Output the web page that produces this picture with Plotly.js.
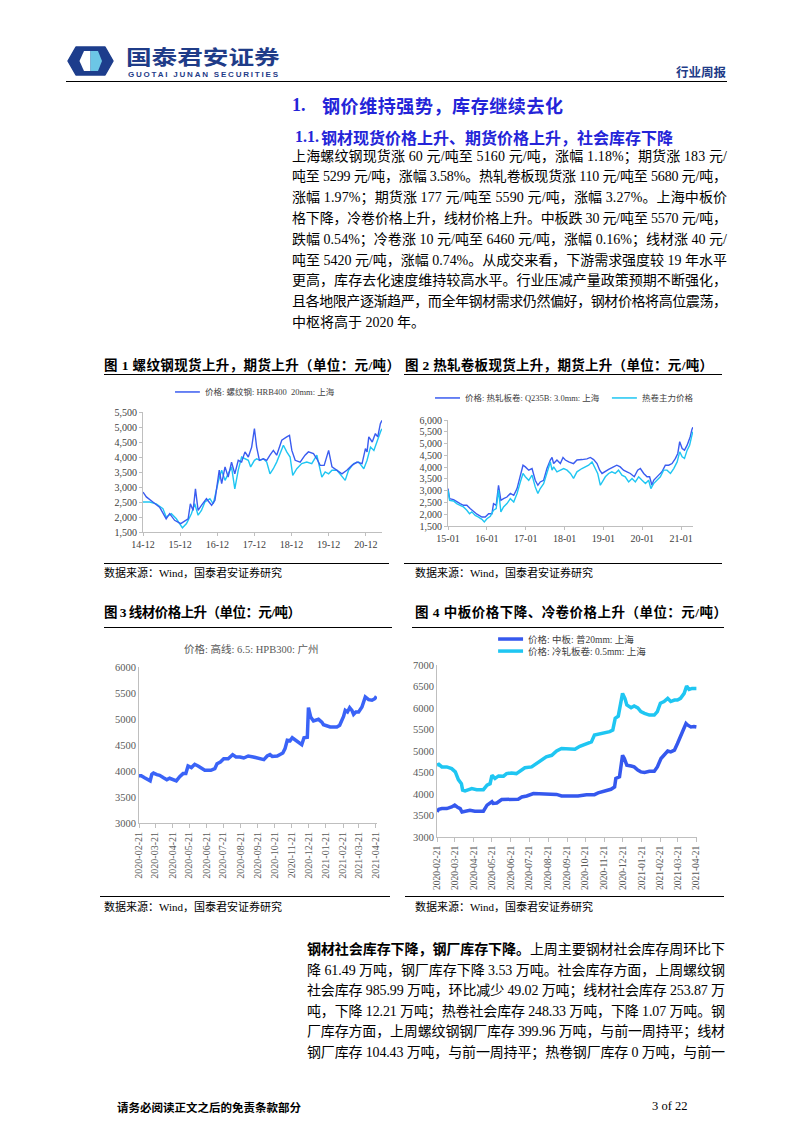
<!DOCTYPE html>
<html><head><meta charset="utf-8">
<script src="https://cdn.plot.ly/plotly-3.0.1.min.js"></script>
<style>
html,body{margin:0;padding:0;background:#fff}
body{width:793px;height:1122px;position:relative;overflow:hidden;font-family:"Liberation Serif","Noto Sans CJK SC",serif;color:#000}
.a{position:absolute;white-space:nowrap;display:inline-block}
.ln{position:absolute;font-size:14px;line-height:20px;white-space:nowrap;display:inline-block}
.cap{position:absolute;font-size:13.5px;font-weight:bold;white-space:nowrap;display:inline-block;line-height:16px}
.src{position:absolute;font-size:11px;white-space:nowrap;line-height:14px}
.rule{position:absolute;height:1.3px;background:#000}
.plot{position:absolute}
</style></head><body>

<!-- header -->
<svg class="a" style="left:67px;top:46px" width="47" height="30" viewBox="0 0 47 30">
  <path d="M9 1 H38 L46 15 L38 29 H9 L1 15 Z" fill="#1d3d8c" stroke="#1d3d8c" stroke-width="1.5" stroke-linejoin="round"/>
  <path d="M17 5 H23.5 V25 H17 L12.5 15 Z" fill="#ffffff"/>
  <path d="M23.5 5 H31 L35 15 L31 25 H23.5 Z" fill="#6cc6e6"/>
</svg>
<div class="a" style="left:126px;top:47px;font-size:20px;font-weight:bold;color:#1f3c88;font-family:'Noto Sans CJK SC';line-height:20px;height:20px;transform:scaleX(1.28);transform-origin:0 0">国泰君安证券</div>
<div class="a fit" data-w="150" style="left:128px;top:70.5px;font-size:8px;font-weight:bold;color:#1f3c88;font-family:'Liberation Sans';line-height:7px;height:7px">GUOTAI JUNAN SECURITIES</div>
<div class="a" style="left:676px;top:65px;font-size:12.5px;font-weight:bold;color:#1f3c88;font-family:'Noto Sans CJK SC';line-height:14px">行业周报</div>
<div class="rule" style="left:66px;top:81px;width:661px"></div>

<!-- headings -->
<div class="a" style="left:292px;top:94px;font-size:18px;font-weight:bold;color:#2424d8;line-height:22px">1.</div>
<div class="a fit" data-w="241" style="left:322px;top:94px;font-size:18px;font-weight:bold;color:#2424d8;font-family:'Noto Sans CJK SC';line-height:22px">钢价维持强势，库存继续去化</div>
<div class="a" style="left:295px;top:127px;font-size:16px;font-weight:bold;color:#2424d8;line-height:20px">1.1.</div>
<div class="a fit" data-w="352" style="left:321px;top:127px;font-size:16px;font-weight:bold;color:#2424d8;font-family:'Noto Sans CJK SC';line-height:20px">钢材现货价格上升、期货价格上升，社会库存下降</div>

<div id="para1"></div>

<!-- captions -->
<div class="cap fit" data-w="296" style="left:104px;top:358px">图 1 螺纹钢现货上升，期货上升（单位：元/吨）</div>
<div class="cap fit" data-w="308" style="left:405px;top:358px">图 2 热轧卷板现货上升，期货上升（单位：元/吨）</div>
<div class="rule" style="left:104px;top:374px;width:285px"></div>
<div class="rule" style="left:404px;top:374px;width:318px"></div>

<div class="rule" style="left:104px;top:563px;width:285px;height:1px"></div>
<div class="rule" style="left:404px;top:563px;width:318px;height:1px"></div>
<div class="src" style="left:104px;top:566px">数据来源：Wind，国泰君安证券研究</div>
<div class="src" style="left:415px;top:566px">数据来源：Wind，国泰君安证券研究</div>

<div class="cap fit" data-w="197" style="left:104px;top:605px">图 3 线材价格上升（单位：元/吨）</div>
<div class="cap fit" data-w="312" style="left:415px;top:605px">图 4 中板价格下降、冷卷价格上升（单位：元/吨）</div>
<div class="rule" style="left:104px;top:627px;width:288px"></div>
<div class="rule" style="left:412px;top:627px;width:312px"></div>

<div class="rule" style="left:100px;top:896px;width:290px;height:1px"></div>
<div class="rule" style="left:405px;top:896px;width:319px;height:1px"></div>
<div class="src" style="left:104px;top:900px">数据来源：Wind，国泰君安证券研究</div>
<div class="src" style="left:415px;top:900px">数据来源：Wind，国泰君安证券研究</div>

<div id="para2"></div>

<div class="a" style="left:117px;top:1100px;font-size:11.5px;font-weight:bold;font-family:'Noto Sans CJK SC';line-height:14px">请务必阅读正文之后的免责条款部分</div>
<div class="a" style="left:652px;top:1099px;font-size:12.5px;line-height:15px">3 of 22</div>

<div id="c1" class="plot" style="left:100px;top:378px;width:300px;height:180px"></div>
<div id="c2" class="plot" style="left:405px;top:378px;width:300px;height:180px"></div>
<div id="c3" class="plot" style="left:100px;top:630px;width:300px;height:260px"></div>
<div id="c4" class="plot" style="left:405px;top:630px;width:300px;height:266px"></div>

<script>
// ---------------- text ----------------
const para1Lines = [
 "上海螺纹钢现货涨 60 元/吨至 5160 元/吨，涨幅 1.18%；期货涨 183 元/",
 "吨至 5299 元/吨，涨幅 3.58%。热轧卷板现货涨 110 元/吨至 5680 元/吨，",
 "涨幅 1.97%；期货涨 177 元/吨至 5590 元/吨，涨幅 3.27%。上海中板价",
 "格下降，冷卷价格上升，线材价格上升。中板跌 30 元/吨至 5570 元/吨，",
 "跌幅 0.54%；冷卷涨 10 元/吨至 6460 元/吨，涨幅 0.16%；线材涨 40 元/",
 "吨至 5420 元/吨，涨幅 0.74%。从成交来看，下游需求强度较 19 年水平",
 "更高，库存去化速度维持较高水平。行业压减产量政策预期不断强化，",
 "且各地限产逐渐趋严，而全年钢材需求仍然偏好，钢材价格将高位震荡，",
 "中枢将高于 2020 年。"
];
const para2Bold = "钢材社会库存下降，钢厂库存下降。";
const para2Lines = [
 "上周主要钢材社会库存周环比下",
 "降 61.49 万吨，钢厂库存下降 3.53 万吨。社会库存方面，上周螺纹钢",
 "社会库存 985.99 万吨，环比减少 49.02 万吨；线材社会库存 253.87 万",
 "吨，下降 12.21 万吨；热卷社会库存 248.33 万吨，下降 1.07 万吨。钢",
 "厂库存方面，上周螺纹钢钢厂库存 399.96 万吨，与前一周持平；线材",
 "钢厂库存 104.43 万吨，与前一周持平；热卷钢厂库存 0 万吨，与前一"
];
(function(){
  const p1 = document.getElementById('para1');
  para1Lines.forEach((t,i)=>{
    const d=document.createElement('div');
    d.className='ln'+(i<para1Lines.length-1?' fit':'');
    d.dataset.w='435';
    d.style.left='292px'; d.style.top=(146.5+i*20.8)+'px';
    d.textContent=t; p1.appendChild(d);
  });
  const p2 = document.getElementById('para2');
  para2Lines.forEach((t,i)=>{
    const d=document.createElement('div');
    d.className='ln fit';
    d.dataset.w='418';
    d.style.left='307px'; d.style.top=(940+i*20.6)+'px';
    if(i===0){
      const b=document.createElement('b'); b.textContent=para2Bold; d.appendChild(b);
      d.appendChild(document.createTextNode(t));
    } else d.textContent=t;
    p2.appendChild(d);
  });
})();
function fitAll(){
  document.querySelectorAll('.fit').forEach(el=>{
    const W=parseFloat(el.dataset.w);
    el.style.letterSpacing='0px';
    const w=el.getBoundingClientRect().width;
    const n=[...el.textContent].length;
    if(n>1) el.style.letterSpacing=((W-w)/(n-1))+'px';
  });
}
fitAll();
if(document.fonts) document.fonts.ready.then(fitAll);

// ---------------- data ----------------
// Fig 1: rebar HRB400 20mm Shanghai spot & futures (元/吨)
const rebarSpotDates=['2014-12-01','2015-01-03','2015-03-08','2015-05-13','2015-07-17','2015-08-20','2015-10-08','2015-12-07','2015-12-30','2016-02-18','2016-03-11','2016-04-07','2016-04-30','2016-05-26','2016-06-28','2016-08-16','2016-10-06','2016-11-08','2016-12-20','2017-01-13','2017-02-15','2017-03-18','2017-04-20','2017-05-22','2017-06-25','2017-07-28','2017-08-30','2017-10-02','2017-11-04','2017-12-01','2017-12-23','2018-01-19','2018-02-27','2018-04-01','2018-05-03','2018-06-05','2018-07-08','2018-08-27','2018-10-15','2018-11-11','2018-12-04','2019-01-06','2019-02-24','2019-04-13','2019-05-16','2019-07-05','2019-08-07','2019-09-09','2019-10-18','2019-12-01','2020-01-03','2020-02-21','2020-04-10','2020-05-28','2020-07-17','2020-09-05','2020-10-25','2020-11-27','2020-12-13','2020-12-30','2021-02-02','2021-03-05','2021-03-28','2021-04-23','2021-05-09'];
const rebarSpot=[2830,2670,2500,2330,1940,2110,1890,1780,1830,1940,2440,2220,2940,2220,2390,2610,2390,2560,3560,3110,3670,3330,3830,3440,3890,3830,4170,4000,4330,4950,4330,3890,3940,3890,4060,4220,4060,4560,4670,4720,4220,3890,3830,4060,4170,4110,3940,3720,3720,4220,3670,3560,3440,3560,3720,3830,3780,4280,4170,4670,4500,4780,4670,5110,5220];
const rebarFutDates=['2014-12-01','2015-02-05','2015-04-10','2015-06-15','2015-07-17','2015-09-06','2015-10-25','2015-12-07','2015-12-24','2016-02-02','2016-03-21','2016-04-23','2016-05-26','2016-06-28','2016-08-01','2016-09-19','2016-10-22','2016-12-10','2017-01-13','2017-02-15','2017-03-18','2017-04-20','2017-05-22','2017-06-25','2017-07-28','2017-08-30','2017-10-02','2017-10-25','2017-12-01','2017-12-23','2018-01-25','2018-02-27','2018-04-01','2018-05-03','2018-06-05','2018-07-08','2018-08-10','2018-09-12','2018-10-15','2018-11-17','2018-12-13','2019-01-22','2019-03-11','2019-04-30','2019-06-18','2019-08-07','2019-09-25','2019-10-28','2019-12-01','2020-01-03','2020-02-21','2020-04-10','2020-05-12','2020-06-14','2020-08-03','2020-09-22','2020-11-11','2020-12-13','2021-01-16','2021-02-18','2021-03-15','2021-04-06','2021-04-30','2021-05-09'];
const rebarFut=[2500,2500,2440,2280,2000,2110,1940,1720,1640,1780,2110,2440,2060,2220,2500,2610,2440,3170,3560,3220,3440,3670,2940,3560,4000,3940,3890,3670,3890,3940,3890,3940,3830,3440,3610,3830,4110,4390,4170,4000,3390,3610,3780,3830,3780,4060,3330,3500,3440,3560,3560,3330,3220,3560,3780,3830,3610,3890,4330,4220,4500,4670,4890,4940];

// Fig 2: HRC Q235B 3.0mm Shanghai spot & main futures
const hrcSpotDates=['2015-01-01','2015-01-16','2015-02-22','2015-03-24','2015-04-25','2015-05-26','2015-06-27','2015-07-28','2015-08-29','2015-09-30','2015-11-16','2015-12-17','2016-01-18','2016-02-18','2016-03-04','2016-03-29','2016-04-20','2016-05-12','2016-06-06','2016-07-08','2016-08-09','2016-09-10','2016-10-11','2016-11-11','2016-12-06','2016-12-28','2017-01-29','2017-03-01','2017-03-31','2017-04-25','2017-05-17','2017-06-18','2017-07-19','2017-08-20','2017-09-05','2017-09-20','2017-10-21','2017-11-22','2017-12-17','2018-01-08','2018-02-09','2018-03-26','2018-04-27','2018-06-13','2018-07-30','2018-08-31','2018-10-01','2018-11-02','2018-11-27','2018-12-19','2019-01-19','2019-02-19','2019-04-06','2019-05-07','2019-06-08','2019-07-09','2019-08-10','2019-09-11','2019-10-18','2019-11-19','2019-12-14','2020-01-15','2020-02-15','2020-03-10','2020-04-01','2020-04-17','2020-06-03','2020-07-04','2020-08-05','2020-09-06','2020-10-07','2020-11-08','2020-11-30','2020-12-18','2021-01-10','2021-02-01','2021-02-26','2021-03-27','2021-04-12','2021-04-21'];
const hrcSpot=[3090,2660,2620,2520,2450,2380,2380,2240,2100,2000,1880,1880,2020,2020,2450,2380,3230,2590,2660,2730,2880,2800,3090,3590,4080,4010,3870,3940,3440,3230,3370,3440,3940,4300,4410,4150,4300,4150,4410,4300,4220,4150,4300,4320,4350,4410,4320,4150,3870,3730,3800,3900,4010,4080,4010,3870,3800,3730,3590,3870,3940,3730,3590,3590,3230,3440,3660,3800,4080,4080,4150,4370,4580,5080,4790,4720,4930,5290,5600,5690];
const hrcFutDates=['2015-01-01','2015-01-16','2015-02-22','2015-03-24','2015-04-25','2015-05-26','2015-06-27','2015-07-22','2015-08-13','2015-09-14','2015-10-15','2015-11-16','2015-12-08','2016-01-02','2016-02-03','2016-03-04','2016-03-29','2016-04-20','2016-05-12','2016-06-06','2016-07-08','2016-08-09','2016-09-10','2016-10-11','2016-11-11','2016-12-06','2016-12-28','2017-01-29','2017-03-01','2017-03-31','2017-04-25','2017-05-17','2017-06-18','2017-07-19','2017-08-20','2017-09-05','2017-09-20','2017-10-21','2017-11-22','2017-12-23','2018-01-24','2018-02-25','2018-03-26','2018-04-27','2018-06-13','2018-07-14','2018-08-15','2018-09-16','2018-10-17','2018-11-08','2018-12-03','2018-12-19','2019-01-19','2019-02-19','2019-03-21','2019-04-22','2019-05-23','2019-06-24','2019-07-25','2019-08-26','2019-09-27','2019-10-28','2019-11-28','2019-12-30','2020-01-31','2020-03-01','2020-03-22','2020-04-17','2020-05-18','2020-06-19','2020-07-20','2020-08-21','2020-09-22','2020-10-23','2020-11-24','2020-12-18','2021-01-10','2021-02-01','2021-02-26','2021-03-21','2021-04-12','2021-04-21'];
const hrcFut=[3020,2590,2560,2450,2380,2310,2170,2020,2100,1950,1880,1780,1670,1810,1910,2170,2240,3020,2100,2310,2450,2660,2520,2880,3370,3730,3590,3440,3660,3160,2880,3090,3300,3800,4220,3870,4010,3800,3870,3940,3870,3730,3520,3800,3940,4010,4080,4220,3940,3730,3230,3370,3590,3730,3800,3730,3870,3660,3590,3370,3520,3370,3590,3440,3300,3440,3090,3300,3440,3590,3870,3870,3730,3940,4220,4650,4440,4370,4720,4930,5360,5500];

// Fig 3: wire rod 6.5 HPB300 Guangzhou
const wireDates=['2020-02-21','2020-02-25','2020-03-02','2020-03-08','2020-03-12','2020-03-15','2020-03-18','2020-03-24','2020-03-29','2020-04-05','2020-04-11','2020-04-16','2020-04-22','2020-04-28','2020-05-04','2020-05-10','2020-05-15','2020-05-19','2020-05-25','2020-05-31','2020-06-06','2020-06-12','2020-06-18','2020-06-23','2020-06-29','2020-07-06','2020-07-10','2020-07-16','2020-07-22','2020-07-30','2020-08-07','2020-08-13','2020-08-20','2020-08-27','2020-09-04','2020-09-13','2020-09-24','2020-10-02','2020-10-08','2020-10-13','2020-10-17','2020-10-26','2020-11-05','2020-11-09','2020-11-13','2020-11-18','2020-11-22','2020-11-28','2020-12-04','2020-12-09','2020-12-13','2020-12-19','2020-12-21','2020-12-25','2020-12-30','2021-01-04','2021-01-08','2021-01-14','2021-01-17','2021-01-29','2021-02-10','2021-02-15','2021-02-22','2021-02-25','2021-03-01','2021-03-05','2021-03-09','2021-03-12','2021-03-16','2021-03-21','2021-03-27','2021-04-02','2021-04-08','2021-04-14','2021-04-19','2021-04-22'];
const wirePrice=[3910,3910,3870,3840,3810,3935,3960,3930,3917,3870,3833,3860,3840,3810,3890,3950,3950,4096,4065,4128,4096,4045,4013,4013,4013,4045,4140,4173,4237,4237,4314,4270,4270,4250,4288,4270,4237,4218,4288,4314,4280,4288,4346,4430,4590,4580,4640,4590,4540,4506,4640,4650,5218,5038,4962,4975,4994,4940,4891,4846,4846,4880,5051,5167,5135,5218,5167,5090,5135,5135,5230,5423,5372,5360,5390,5436];

// Fig 4: medium plate 20mm & cold-rolled 0.5mm Shanghai
const plateDates=['2020-02-21','2020-02-24','2020-02-29','2020-03-08','2020-03-16','2020-03-21','2020-03-25','2020-03-30','2020-04-02','2020-04-07','2020-04-15','2020-04-23','2020-05-02','2020-05-07','2020-05-13','2020-05-18','2020-05-21','2020-05-23','2020-05-29','2020-06-06','2020-06-14','2020-06-22','2020-07-03','2020-07-09','2020-07-17','2020-07-28','2020-08-10','2020-08-27','2020-09-04','2020-09-12','2020-09-23','2020-10-09','2020-10-23','2020-11-05','2020-11-11','2020-11-21','2020-12-02','2020-12-08','2020-12-10','2020-12-16','2020-12-21','2020-12-24','2020-12-28','2021-01-04','2021-01-09','2021-01-15','2021-01-20','2021-01-26','2021-02-03','2021-02-11','2021-02-16','2021-02-22','2021-02-27','2021-03-05','2021-03-10','2021-03-16','2021-03-21','2021-03-26','2021-03-31','2021-04-04','2021-04-07','2021-04-12','2021-04-17','2021-04-21'];
const platePrice=[3590,3645,3660,3660,3700,3740,3700,3660,3580,3600,3620,3600,3600,3600,3740,3780,3820,3780,3790,3870,3870,3880,3880,3930,3955,4010,4010,4010,3990,3955,3955,3955,3985,3985,4025,4065,4110,4165,4360,4400,4900,4825,4670,4650,4630,4555,4515,4500,4530,4530,4630,4825,4900,5000,4980,5020,5175,5330,5500,5640,5600,5560,5570,5560];
const coldDates=['2020-02-21','2020-02-24','2020-02-29','2020-03-08','2020-03-16','2020-03-22','2020-03-27','2020-04-01','2020-04-03','2020-04-07','2020-04-13','2020-04-18','2020-04-26','2020-05-02','2020-05-07','2020-05-13','2020-05-18','2020-05-21','2020-05-26','2020-06-01','2020-06-09','2020-06-14','2020-06-22','2020-06-30','2020-07-06','2020-07-14','2020-07-25','2020-08-02','2020-08-10','2020-08-18','2020-08-27','2020-09-04','2020-09-12','2020-09-23','2020-10-04','2020-10-12','2020-10-20','2020-10-31','2020-11-05','2020-11-13','2020-11-21','2020-11-30','2020-12-05','2020-12-09','2020-12-14','2020-12-18','2020-12-21','2020-12-25','2020-12-28','2021-01-04','2021-01-09','2021-01-15','2021-01-20','2021-01-26','2021-02-03','2021-02-11','2021-02-16','2021-02-21','2021-02-27','2021-03-05','2021-03-10','2021-03-16','2021-03-21','2021-03-26','2021-04-01','2021-04-05','2021-04-09','2021-04-14','2021-04-21'];
const coldPrice=[4670,4690,4630,4630,4590,4515,4335,4240,4090,4070,4100,4125,4100,4090,4100,4205,4240,4435,4360,4420,4415,4475,4490,4475,4540,4610,4630,4710,4770,4865,4900,5000,5060,5040,5040,5110,5150,5210,5370,5390,5410,5450,5485,5760,5810,6070,6340,6220,6070,6005,6045,6000,5915,5875,5835,5835,5915,6110,6150,6225,6150,6185,6185,6225,6340,6510,6430,6455,6455];

const monthTicks=['2020-02-21','2020-03-21','2020-04-21','2020-05-21','2020-06-21','2020-07-21','2020-08-21','2020-09-21','2020-10-21','2020-11-21','2020-12-21','2021-01-21','2021-02-21','2021-03-21','2021-04-21'];

const NAMES={
  rebar:'价格: 螺纹钢: HRB400  20mm: 上海',
  hrc:'价格: 热轧板卷: Q235B: 3.0mm: 上海',
  hrcFut:'热卷主力价格',
  wire:'价格: 高线: 6.5: HPB300: 广州',
  plate:'价格: 中板: 普20mm: 上海',
  cold:'价格: 冷轧板卷: 0.5mm: 上海'
};

// ---------------- charts ----------------
const FONT="'Liberation Serif','Noto Sans CJK SC',serif";
const DARK='#3a5cf0', CYAN='#1fc6f2';
const cfg={staticPlot:true,displayModeBar:false};
function axisBase(extra){
  return Object.assign({showgrid:false,zeroline:false,showline:true,linecolor:'#bfbfbf',linewidth:1,
    ticks:'outside',ticklen:3,tickcolor:'#bfbfbf',tickfont:{family:FONT,size:10,color:'#404040'}},extra);
}
function base(m){
  return {width:300,margin:m,showlegend:false,paper_bgcolor:'rgba(0,0,0,0)',plot_bgcolor:'rgba(0,0,0,0)',font:{family:FONT,size:10,color:'#404040'}};
}
// legend key drawn in paper coordinates: sample line + label
function key(x0,x1,y,color,w,label,fs,col){
  return {shape:{type:'line',xref:'paper',yref:'paper',x0:x0,x1:x1,y0:y,y1:y,line:{color:color,width:w}},
          ann:{text:label,xref:'paper',yref:'paper',x:x1+0.012,y:y,xanchor:'left',yanchor:'middle',showarrow:false,font:{size:fs,color:col}}};
}

// chart 1 (plot area 143..382 x 412..532)
const k1=key(0.134,0.238,1.167,DARK,1.5,NAMES.rebar,8.5,'#404040');
Plotly.newPlot('c1',[
  {x:rebarFutDates,y:rebarFut,type:'scatter',mode:'lines',line:{color:CYAN,width:1.4},name:'期货'},
  {x:rebarSpotDates,y:rebarSpot,type:'scatter',mode:'lines',line:{color:DARK,width:1.4},name:NAMES.rebar}
],Object.assign(base({l:43,r:18,t:34,b:26}),{height:180,
  shapes:[k1.shape],annotations:[k1.ann],
  xaxis:axisBase({type:'date',range:['2014-12-01','2021-05-09'],tick0:'2014-12-01',dtick:'M12',tickformat:'%y-%m'}),
  yaxis:axisBase({range:[1500,5500],dtick:500,tickformat:',d'})
}),cfg);

// chart 2 (plot area 448..693 x 420..526)
const k2a=key(-0.053,0.049,1.208,DARK,1.5,NAMES.hrc,8.5,'#404040');
const k2b=key(0.669,0.771,1.208,CYAN,1.5,NAMES.hrcFut,8.5,'#404040');
Plotly.newPlot('c2',[
  {x:hrcSpotDates,y:hrcSpot,type:'scatter',mode:'lines',line:{color:DARK,width:1.4},name:NAMES.hrc},
  {x:hrcFutDates,y:hrcFut,type:'scatter',mode:'lines',line:{color:CYAN,width:1.4},name:NAMES.hrcFut}
],Object.assign(base({l:43,r:12,t:42,b:32}),{height:180,
  shapes:[k2a.shape,k2b.shape],annotations:[k2a.ann,k2b.ann],
  xaxis:axisBase({type:'date',range:['2015-01-01','2021-04-22'],tick0:'2015-01-01',dtick:'M12',tickformat:'%y-%m'}),
  yaxis:axisBase({range:[1500,6000],dtick:500,tickformat:',d'})
}),cfg);

// chart 3
Plotly.newPlot('c3',[
  {x:wireDates,y:wirePrice,type:'scatter',mode:'lines',line:{color:'#3a63f7',width:3.5},name:NAMES.wire}
],Object.assign(base({l:39,r:23,t:37,b:67}),{height:260,
  annotations:[{text:NAMES.wire,xref:'paper',yref:'paper',x:0.47,y:1.115,xanchor:'center',yanchor:'middle',showarrow:false,font:{size:10.5,color:'#595959'}}],
  xaxis:axisBase({type:'date',range:['2020-02-21','2021-04-23'],tickvals:monthTicks,ticktext:monthTicks,tickangle:-90,ticklen:4,tickfont:{family:FONT,size:10,color:'#595959'}}),
  yaxis:axisBase({range:[3000,6000],dtick:500,ticks:'',tickfont:{family:FONT,size:10.5,color:'#595959'}})
}),cfg);

// chart 4 (plot area 437..697 x 665..837)
const k4a=key(0.235,0.331,1.151,'#3558ee',3.5,NAMES.plate,9.5,'#404040');
const k4b=key(0.235,0.331,1.081,CYAN,3.5,NAMES.cold,9.5,'#404040');
Plotly.newPlot('c4',[
  {x:plateDates,y:platePrice,type:'scatter',mode:'lines',line:{color:'#3558ee',width:3.5},name:NAMES.plate},
  {x:coldDates,y:coldPrice,type:'scatter',mode:'lines',line:{color:CYAN,width:3.5},name:NAMES.cold}
],Object.assign(base({l:32,r:8,t:35,b:59}),{height:266,
  shapes:[k4a.shape,k4b.shape],annotations:[k4a.ann,k4b.ann],
  xaxis:axisBase({type:'date',range:['2020-02-21','2021-04-22'],tickvals:monthTicks,ticktext:monthTicks,tickangle:-90,ticklen:4,tickfont:{family:FONT,size:9.5,color:'#595959'}}),
  yaxis:axisBase({range:[3000,7000],dtick:500,ticks:'',tickfont:{family:FONT,size:10.5,color:'#595959'}})
}),cfg);
</script>
</body></html>
